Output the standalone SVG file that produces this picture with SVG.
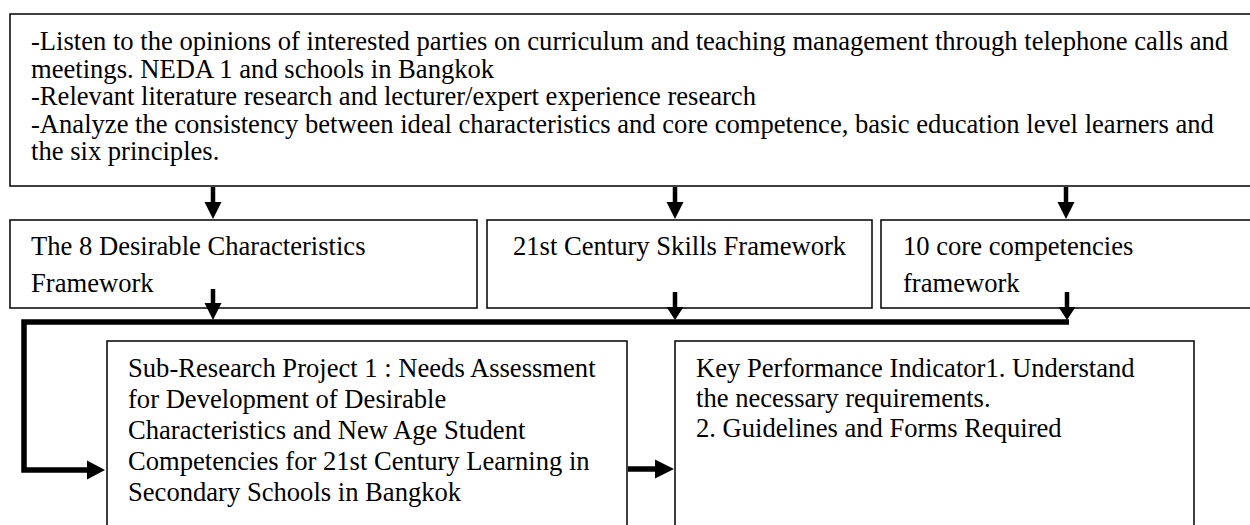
<svg xmlns="http://www.w3.org/2000/svg" width="1250" height="525" viewBox="0 0 1250 525">
<style>
.box{fill:#fff;stroke:#000;stroke-width:1.5}
.t{font-family:"Liberation Serif","Times New Roman",serif;font-size:26.6px;fill:#000}
.thick{fill:none;stroke:#000;stroke-width:5.5}
.sh{fill:none;stroke:#000;stroke-width:4.5}
.hd{fill:#000;stroke:none}
</style>
<rect width="1250" height="525" fill="#fff"/>
<g id="top">
<rect class="box" x="10" y="14" width="1245" height="172"/>
<text class="t" x="31" y="50">-Listen to the opinions of interested parties on curriculum and teaching management through telephone calls and</text>
<text class="t" x="31" y="77.5">meetings. NEDA 1 and schools in Bangkok</text>
<text class="t" x="31" y="105">-Relevant literature research and lecturer/expert experience research</text>
<text class="t" x="31" y="132.5">-Analyze the consistency between ideal characteristics and core competence, basic education level learners and</text>
<text class="t" x="31" y="160">the six principles.</text>
</g>
<g id="desirable">
<rect class="box" x="10" y="220" width="467" height="88"/>
<text class="t" x="31" y="255">The 8 Desirable Characteristics</text>
<text class="t" x="31" y="292">Framework</text>
</g>
<g id="skills21">
<rect class="box" x="487" y="220" width="385" height="88"/>
<text class="t" x="513" y="255">21st Century Skills Framework</text>
</g>
<g id="core10">
<rect class="box" x="881" y="220" width="375" height="88"/>
<text class="t" x="903" y="255">10 core competencies</text>
<text class="t" x="903" y="292">framework</text>
</g>
<g id="subproject">
<rect class="box" x="107" y="341" width="520" height="190"/>
<text class="t" x="128" y="377">Sub-Research Project 1 : Needs Assessment</text>
<text class="t" x="128" y="407.5">for Development of Desirable</text>
<text class="t" x="128" y="439">Characteristics and New Age Student</text>
<text class="t" x="128" y="470">Competencies for 21st Century Learning in</text>
<text class="t" x="128" y="501">Secondary Schools in Bangkok</text>
</g>
<g id="kpi">
<rect class="box" x="675" y="341" width="519" height="190"/>
<text class="t" x="696" y="377">Key Performance Indicator1. Understand</text>
<text class="t" x="696" y="407">the necessary requirements.</text>
<text class="t" x="696" y="437">2. Guidelines and Forms Required</text>
</g>
<g id="connectors">
<line class="sh" x1="213" y1="187" x2="213" y2="203"/>
<polygon class="hd" points="204.5,202 221.5,202 213,219"/>
<line class="sh" x1="675" y1="187" x2="675" y2="203"/>
<polygon class="hd" points="666.5,202 683.5,202 675,219"/>
<line class="sh" x1="1066" y1="187" x2="1066" y2="203"/>
<polygon class="hd" points="1057.5,202 1074.5,202 1066,219"/>
<line class="sh" x1="213" y1="289" x2="213" y2="304"/>
<polygon class="hd" points="204.5,303 221.5,303 213,320"/>
<line class="sh" x1="675" y1="292" x2="675" y2="308"/>
<polygon class="hd" points="666.5,307 683.5,307 675,320"/>
<line class="sh" x1="1067" y1="292" x2="1067" y2="308"/>
<polygon class="hd" points="1058.5,307 1075.5,307 1067,320"/>
<polyline class="thick" points="1069,322 24,322 24,470 88,470"/>
<polygon class="hd" points="87,460.5 87,479.5 105,470"/>
<line class="thick" x1="628" y1="469" x2="656" y2="469"/>
<polygon class="hd" points="655,459.5 655,478.5 674,469"/>
</g>
</svg>
